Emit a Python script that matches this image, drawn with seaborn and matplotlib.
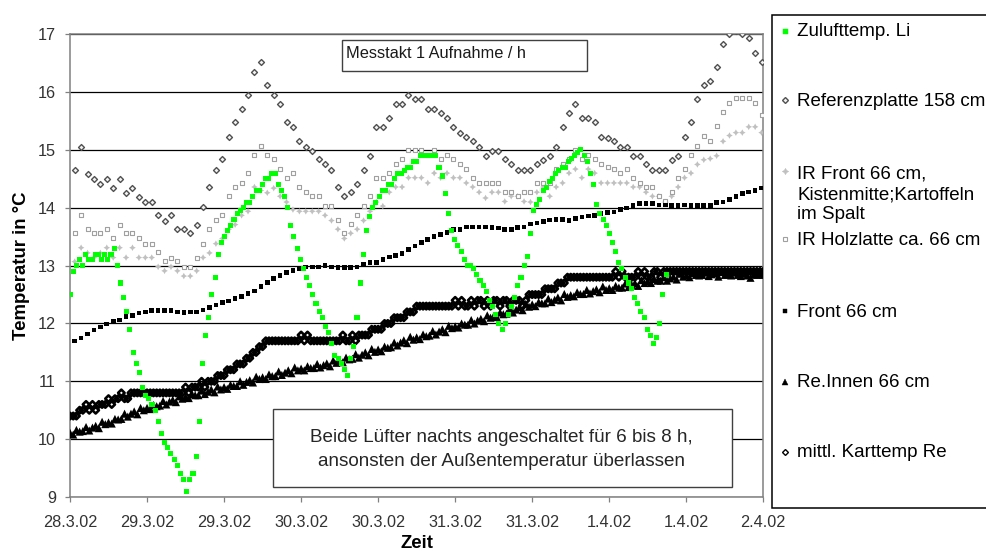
import numpy as np
import matplotlib
matplotlib.use("Agg")
import matplotlib.pyplot as plt
import seaborn as sns
from matplotlib.lines import Line2D
from matplotlib.patches import Rectangle

# ---------------- data ----------------
x_tick_labels = ["28.3.02", "29.3.02", "29.3.02", "30.3.02", "30.3.02",
                 "31.3.02", "31.3.02", "1.4.02", "1.4.02", "2.4.02"]
y_ticks = [9, 10, 11, 12, 13, 14, 15, 16, 17]

series_names = ["Zulufttemp. Li", "Referenzplatte 158 cm",
                "IR Front 66 cm,\nKistenmitte;Kartoffeln\nim Spalt",
                "IR Holzlatte ca. 66 cm", "Front 66 cm", "Re.Innen 66 cm",
                "mittl. Karttemp Re"]

# Zulufttemp. Li (denser sampling, ~0.49 h)
zuluft = [12.5, 12.9, 13.0, 13.1, 13.0, 13.2, 13.1, 13.1, 13.2, 13.2,
          13.1, 13.2, 13.1, 13.2, 13.3, 13.0, 12.7, 12.45, 12.2, 11.9,
          11.5, 11.3, 11.15, 10.9, 10.75, 10.7, 10.6, 10.5, 10.3, 10.1,
          9.95, 9.85, 9.75, 9.65, 9.55, 9.4, 9.3, 9.1, 9.3, 9.4,
          9.7, 10.3, 11.3, 11.8, 12.1, 12.5, 12.8, 13.2, 13.4, 13.5,
          13.6, 13.7, 13.8, 13.9, 13.95, 14.0, 14.1, 14.1, 14.2, 14.3,
          14.3, 14.4, 14.5, 14.5, 14.6, 14.6, 14.4, 14.3, 14.2, 14.0,
          13.7, 13.5, 13.3, 13.1, 12.95, 12.8, 12.65, 12.5, 12.35, 12.2,
          12.1, 11.95, 11.85, 11.65, 11.45, 11.4, 11.3, 11.2, 11.1, 11.4,
          11.6, 12.1, 12.7, 13.2, 13.6, 13.85, 14.0, 14.1, 14.2, 14.3,
          14.3, 14.4, 14.4, 14.5, 14.6, 14.6, 14.65, 14.7, 14.7, 14.8,
          14.8, 14.9, 14.9, 14.9, 14.9, 14.9, 14.9, 14.7, 14.55, 14.25,
          13.9, 13.6, 13.45, 13.35, 13.25, 13.1, 13.0, 13.0, 12.95, 12.85,
          12.75, 12.65, 12.55, 12.4, 12.3, 12.15, 12.0, 11.9, 12.0, 12.15,
          12.3, 12.45, 12.65, 12.8, 13.0, 13.15, 13.55, 13.95, 14.05, 14.15,
          14.3, 14.35, 14.45, 14.5, 14.6, 14.65, 14.7, 14.7, 14.8, 14.85,
          14.9, 14.95, 15.0, 14.9, 14.8, 14.6, 14.4, 14.05, 13.9, 13.8,
          13.7, 13.55, 13.4, 13.25, 13.05, 12.95, 12.8, 12.7, 12.6, 12.45,
          12.35, 12.2, 12.1, 11.9, 11.8, 11.65, 11.75, 12.0, 12.5, 12.85]

# hourly series
referenz = [14.66, 15.06, 14.59, 14.5, 14.42, 14.5, 14.35, 14.5, 14.26, 14.35,
            14.19, 14.1, 14.1, 13.87, 13.78, 13.87, 13.63, 13.63, 13.56, 13.71,
            14.02, 14.36, 14.66, 14.84, 15.23, 15.48, 15.71, 15.95, 16.35, 16.52,
            16.13, 15.95, 15.8, 15.48, 15.4, 15.16, 15.06, 14.99, 14.84, 14.75,
            14.66, 14.36, 14.2, 14.27, 14.42, 14.66, 14.9, 15.4, 15.4, 15.55,
            15.8, 15.8, 15.95, 15.88, 15.88, 15.71, 15.71, 15.64, 15.55, 15.4,
            15.3, 15.23, 15.15, 15.06, 14.9, 14.99, 14.99, 14.84, 14.75, 14.66,
            14.66, 14.66, 14.75, 14.83, 14.9, 15.06, 15.4, 15.64, 15.8, 15.55,
            15.55, 15.48, 15.23, 15.2, 15.15, 15.06, 15.06, 14.9, 14.9, 14.75,
            14.66, 14.66, 14.66, 14.83, 14.9, 15.23, 15.48, 15.88, 16.13, 16.2,
            16.44, 16.83, 17.0, 17.05, 17.0, 16.93, 16.68, 16.52]

ir_front = [13.07, 13.31, 13.22, 13.14, 13.22, 13.31, 13.14, 13.31, 13.14, 13.31,
            13.14, 13.14, 13.14, 12.98, 12.91, 12.98, 12.91, 12.82, 12.82, 12.91,
            13.14, 13.22, 13.38, 13.47, 13.63, 13.71, 13.87, 13.94, 14.36, 14.3,
            14.26, 14.34, 14.2, 14.1, 13.97, 13.94, 13.94, 13.94, 13.94, 13.87,
            13.78, 13.63, 13.47, 13.56, 13.63, 13.78, 13.94, 14.1, 14.03, 14.27,
            14.36, 14.36, 14.52, 14.52, 14.52, 14.43, 14.6, 14.52, 14.6, 14.52,
            14.52, 14.43, 14.36, 14.27, 14.17, 14.27, 14.27, 14.11, 14.2, 14.2,
            14.11, 14.1, 14.27, 14.36, 14.2, 14.36, 14.43, 14.6, 14.67, 14.52,
            14.67, 14.6, 14.43, 14.43, 14.43, 14.43, 14.43, 14.36, 14.36, 14.27,
            14.2, 14.2, 14.1, 14.2, 14.36, 14.52, 14.6, 14.75, 14.83, 14.85,
            14.9, 15.15, 15.25, 15.3, 15.3, 15.4, 15.4, 15.3]

ir_holz = [13.57, 13.87, 13.63, 13.56, 13.56, 13.63, 13.47, 13.71, 13.56, 13.56,
           13.47, 13.38, 13.38, 13.23, 13.08, 13.14, 13.08, 12.98, 12.98, 13.14,
           13.38, 13.63, 13.79, 13.87, 14.2, 14.36, 14.43, 14.6, 14.91, 15.07,
           14.91, 14.85, 14.67, 14.52, 14.6, 14.36, 14.27, 14.2, 14.2, 14.03,
           14.03, 13.79, 13.57, 13.72, 13.87, 14.03, 14.2, 14.52, 14.52, 14.6,
           14.76, 14.85, 15.0, 15.0, 15.0, 14.91, 15.0, 14.85, 14.91, 14.85,
           14.76, 14.67, 14.52, 14.43, 14.43, 14.43, 14.43, 14.27, 14.27, 14.2,
           14.27, 14.27, 14.43, 14.43, 14.43, 14.67, 14.76, 14.85, 15.0, 14.85,
           14.91, 14.85, 14.76, 14.7, 14.67, 14.6, 14.67, 14.52, 14.43, 14.36,
           14.36, 14.2, 14.11, 14.27, 14.52, 14.67, 14.91, 15.07, 15.25, 15.16,
           15.41, 15.65, 15.81, 15.9, 15.9, 15.9, 15.81, 15.6]

front66 = [11.7, 11.75, 11.82, 11.89, 11.94, 11.99, 12.03, 12.06, 12.12, 12.14,
           12.18, 12.2, 12.22, 12.22, 12.22, 12.22, 12.2, 12.19, 12.2, 12.2,
           12.23, 12.28, 12.32, 12.36, 12.39, 12.43, 12.47, 12.52, 12.56, 12.64,
           12.71, 12.78, 12.83, 12.88, 12.92, 12.94, 12.98, 12.98, 12.98, 13.0,
           12.98, 12.97, 12.97, 12.97, 12.98, 13.02, 13.05, 13.05, 13.11, 13.15,
           13.18, 13.21, 13.28, 13.34, 13.4, 13.45, 13.5, 13.54, 13.57, 13.63,
           13.63, 13.67, 13.67, 13.67, 13.67, 13.66, 13.65, 13.63, 13.63, 13.66,
           13.67, 13.72, 13.74, 13.76, 13.79, 13.8, 13.8, 13.78, 13.82, 13.84,
           13.86, 13.87, 13.9, 13.92, 13.93, 13.97, 14.0, 14.04, 14.07, 14.07,
           14.07, 14.05, 14.05, 14.04, 14.04, 14.05, 14.04, 14.04, 14.04, 14.04,
           14.09, 14.1, 14.14, 14.2, 14.25, 14.27, 14.3, 14.34]

# half-hourly series
re_innen = [10.11, 10.08, 10.16, 10.13, 10.14, 10.21, 10.15, 10.20, 10.23, 10.19,
            10.30, 10.26, 10.29, 10.27, 10.35, 10.34, 10.35, 10.44, 10.39, 10.44,
            10.48, 10.43, 10.54, 10.50, 10.54, 10.52, 10.59, 10.57, 10.58, 10.66,
            10.60, 10.65, 10.68, 10.64, 10.74, 10.70, 10.73, 10.71, 10.78, 10.76,
            10.76, 10.84, 10.78, 10.82, 10.86, 10.81, 10.91, 10.86, 10.90, 10.87,
            10.94, 10.92, 10.92, 11.00, 10.94, 10.99, 11.02, 10.98, 11.08, 11.04,
            11.07, 11.04, 11.12, 11.09, 11.09, 11.17, 11.11, 11.15, 11.19, 11.14,
            11.24, 11.19, 11.22, 11.19, 11.26, 11.23, 11.23, 11.30, 11.24, 11.28,
            11.31, 11.26, 11.36, 11.32, 11.35, 11.33, 11.41, 11.38, 11.39, 11.47,
            11.41, 11.46, 11.50, 11.45, 11.56, 11.51, 11.55, 11.52, 11.60, 11.58,
            11.59, 11.67, 11.62, 11.67, 11.71, 11.66, 11.77, 11.72, 11.76, 11.73,
            11.81, 11.78, 11.79, 11.87, 11.81, 11.86, 11.90, 11.85, 11.96, 11.92,
            11.95, 11.93, 12.00, 11.98, 11.98, 12.06, 12.00, 12.05, 12.08, 12.04,
            12.14, 12.10, 12.13, 12.11, 12.19, 12.16, 12.17, 12.25, 12.19, 12.24,
            12.28, 12.23, 12.34, 12.29, 12.33, 12.30, 12.37, 12.35, 12.35, 12.43,
            12.37, 12.41, 12.45, 12.40, 12.51, 12.46, 12.49, 12.47, 12.54, 12.51,
            12.51, 12.58, 12.52, 12.56, 12.59, 12.54, 12.64, 12.58, 12.61, 12.58,
            12.65, 12.62, 12.62, 12.69, 12.63, 12.67, 12.70, 12.65, 12.75, 12.70,
            12.73, 12.70, 12.77, 12.74, 12.74, 12.80, 12.74, 12.78, 12.81, 12.76,
            12.86, 12.81, 12.83, 12.80, 12.87, 12.84, 12.83, 12.84, 12.88, 12.82,
            12.85, 12.87, 12.81, 12.89, 12.84, 12.85, 12.83, 12.88, 12.84, 12.82,
            12.86, 12.83, 12.79, 12.85, 12.84, 12.87, 12.84]

karttemp = [10.4, 10.4, 10.4, 10.5, 10.5, 10.6, 10.5, 10.6, 10.5, 10.6,
            10.6, 10.6, 10.7, 10.6, 10.7, 10.7, 10.8, 10.7, 10.7, 10.8,
            10.8, 10.8, 10.8, 10.8, 10.8, 10.8, 10.8, 10.8, 10.8, 10.8,
            10.8, 10.8, 10.8, 10.8, 10.8, 10.8, 10.9, 10.8, 10.9, 10.9,
            10.9, 11.0, 10.9, 11.0, 11.0, 11.0, 11.1, 11.1, 11.1, 11.2,
            11.2, 11.2, 11.3, 11.3, 11.3, 11.4, 11.4, 11.5, 11.5, 11.6,
            11.6, 11.7, 11.7, 11.7, 11.7, 11.7, 11.7, 11.7, 11.7, 11.7,
            11.7, 11.7, 11.8, 11.7, 11.8, 11.7, 11.7, 11.7, 11.7, 11.7,
            11.7, 11.7, 11.7, 11.7, 11.7, 11.8, 11.7, 11.7, 11.8, 11.7,
            11.8, 11.8, 11.8, 11.8, 11.9, 11.9, 11.9, 11.9, 12.0, 12.0,
            12.0, 12.1, 12.1, 12.1, 12.1, 12.2, 12.2, 12.2, 12.3, 12.3,
            12.3, 12.3, 12.3, 12.3, 12.3, 12.3, 12.3, 12.3, 12.3, 12.3,
            12.4, 12.3, 12.4, 12.3, 12.3, 12.4, 12.3, 12.4, 12.4, 12.3,
            12.4, 12.3, 12.4, 12.4, 12.3, 12.4, 12.4, 12.3, 12.4, 12.4,
            12.4, 12.3, 12.4, 12.5, 12.5, 12.5, 12.5, 12.5, 12.6, 12.6,
            12.6, 12.6, 12.7, 12.7, 12.7, 12.8, 12.8, 12.8, 12.8, 12.8,
            12.8, 12.8, 12.8, 12.8, 12.8, 12.8, 12.8, 12.8, 12.8, 12.8,
            12.9, 12.8, 12.9, 12.8, 12.8, 12.8, 12.8, 12.9, 12.8, 12.9,
            12.8, 12.8, 12.9, 12.9, 12.8, 12.9, 12.9, 12.9, 12.9, 12.9,
            12.9, 12.9, 12.9, 12.9, 12.9, 12.9, 12.9, 12.9, 12.9, 12.9,
            12.9, 12.9, 12.9, 12.9, 12.9, 12.9, 12.9, 12.9, 12.9, 12.9,
            12.9, 12.9, 12.9, 12.9, 12.9, 12.9, 12.9]

# time stamps in hours since the left end of the axis
t_hourly = 0.73 + np.arange(len(referenz))
t_half = 0.5 * np.arange(len(re_innen))
t_green = 0.4913 * np.arange(len(zuluft))

# ---------------- styling ----------------
sns.set_style("ticks")
plt.rcParams["font.family"] = ["Liberation Sans", "DejaVu Sans"]

W, H = 987, 552
fig = plt.figure(figsize=(W / 100, H / 100), dpi=100)
fig.patch.set_facecolor("white")
ax = fig.add_axes([70 / W, 1 - 497 / H, (763.3 - 70) / W, (497 - 34.3) / H])

styles = [
    dict(marker="s", s=13, color="#00ff00", facecolor="#00ff00", edgecolor="none", linewidth=0, zorder=9),
    dict(marker="D", s=9, color="#505050", facecolor="#f2f2f2", edgecolor="#505050", linewidth=1.0, zorder=3),
    dict(marker=(4, 1, 0), s=22, color="#c0c0c0", facecolor="#c0c0c0", edgecolor="none", linewidth=0, zorder=3),
    dict(marker="s", s=9.5, color="#a0a0a0", facecolor="white", edgecolor="#a0a0a0", linewidth=0.8, zorder=3.5),
    dict(marker="s", s=11, color="black", facecolor="black", edgecolor="none", linewidth=0, zorder=4),
    dict(marker="^", s=34, color="black", facecolor="black", edgecolor="none", linewidth=0, zorder=5),
    dict(marker="D", s=11, color="black", facecolor="none", edgecolor="black", linewidth=1.9, zorder=6),
]
series_data = [(t_green, zuluft), (t_hourly, referenz), (t_hourly, ir_front),
               (t_hourly, ir_holz), (t_hourly, front66), (t_half, re_innen),
               (t_half, karttemp)]

for (tx, vy), st in zip(series_data, styles):
    sns.scatterplot(x=tx, y=vy, ax=ax, legend=False, **st)

ax.set_xlim(0, 108)
ax.set_ylim(9, 17)
ax.set_xticks(np.arange(0, 109, 12))
ax.set_xticklabels(x_tick_labels)
ax.set_yticks(y_ticks)
ax.set_yticklabels([str(v) for v in y_ticks])
ax.set_axisbelow(True)
ax.yaxis.grid(True, color="black", linewidth=0.9)
ax.xaxis.grid(False)
for sp in ax.spines.values():
    sp.set_visible(True)
    sp.set_color("#808080")
    sp.set_linewidth(1.1)
ax.tick_params(axis="both", which="major", direction="out", length=3.8, width=0.9,
               color="#808080", labelsize=11.7, labelcolor="#333333",
               bottom=True, left=True, top=False, right=False)
ax.tick_params(axis="x", pad=9.5)
ax.tick_params(axis="y", pad=6.3)

ax.set_ylabel("Temperatur in °C", fontsize=13.4, fontweight="bold", color="black")
ax.yaxis.set_label_coords(-0.058, 0.5)
ax.set_xlabel("Zeit", fontsize=13.4, fontweight="bold", color="black")
ax.xaxis.set_label_coords(0.5, -0.082)


def px(x, y):
    return x / W, 1 - y / H


def box(x0, y0, x1, y1, ec, lw=1.0):
    r = Rectangle(px(x0, y1), (x1 - x0) / W, (y1 - y0) / H, transform=fig.transFigure,
                  facecolor="white", edgecolor=ec, linewidth=lw, zorder=20, clip_on=False)
    fig.add_artist(r)


# annotation boxes
box(342.3, 40, 587.3, 71, "#404040")
fig.text(*px(346, 58.5), "Messtakt 1 Aufnahme / h", fontsize=11.8, color="#1a1a1a",
         ha="left", va="baseline", zorder=21)
box(272.7, 409.3, 732.3, 486.7, "#404040")
fig.text(*px(501.5, 441.7), "Beide Lüfter nachts angeschaltet für 6 bis 8 h,",
         fontsize=13.6, ha="center", va="baseline", zorder=21)
fig.text(*px(501.5, 466), "ansonsten der Außentemperatur überlassen",
         fontsize=13.6, ha="center", va="baseline", zorder=21)

# legend
box(771.7, 15, 1000, 508.3, "black", lw=1.1)
marker_y = [30.5, 100, 170.5, 239.3, 310.7, 382, 451.5]
text_base = [[36.3], [106.3], [178.3, 199.6, 219.3], [245], [316.7], [387.3], [457.3]]
legend_ms = [3.6, 3.0, 4.7, 3.1, 3.3, 4.2, 3.0]
legend_mew = [0.3, 1.0, 0.3, 0.8, 0.3, 0.3, 1.0]
for name, st, my, tb, ms, mew in zip(series_names, styles, marker_y, text_base,
                                     legend_ms, legend_mew):
    fc = st["facecolor"] if st["facecolor"] != "none" else "white"
    ec = st["edgecolor"] if st["edgecolor"] != "none" else st["facecolor"]
    h = Line2D([785.5 / W], [1 - my / H], transform=fig.transFigure, linestyle="none",
               marker=st["marker"], markersize=ms, markerfacecolor=fc,
               markeredgecolor=ec, markeredgewidth=mew, zorder=22)
    fig.add_artist(h)
    for line, yb in zip(name.split("\n"), tb):
        fig.text(*px(797.5, yb), line, fontsize=13.5, ha="left", va="baseline",
                 color="black", zorder=22)

fig.savefig("out.png", dpi=100)
